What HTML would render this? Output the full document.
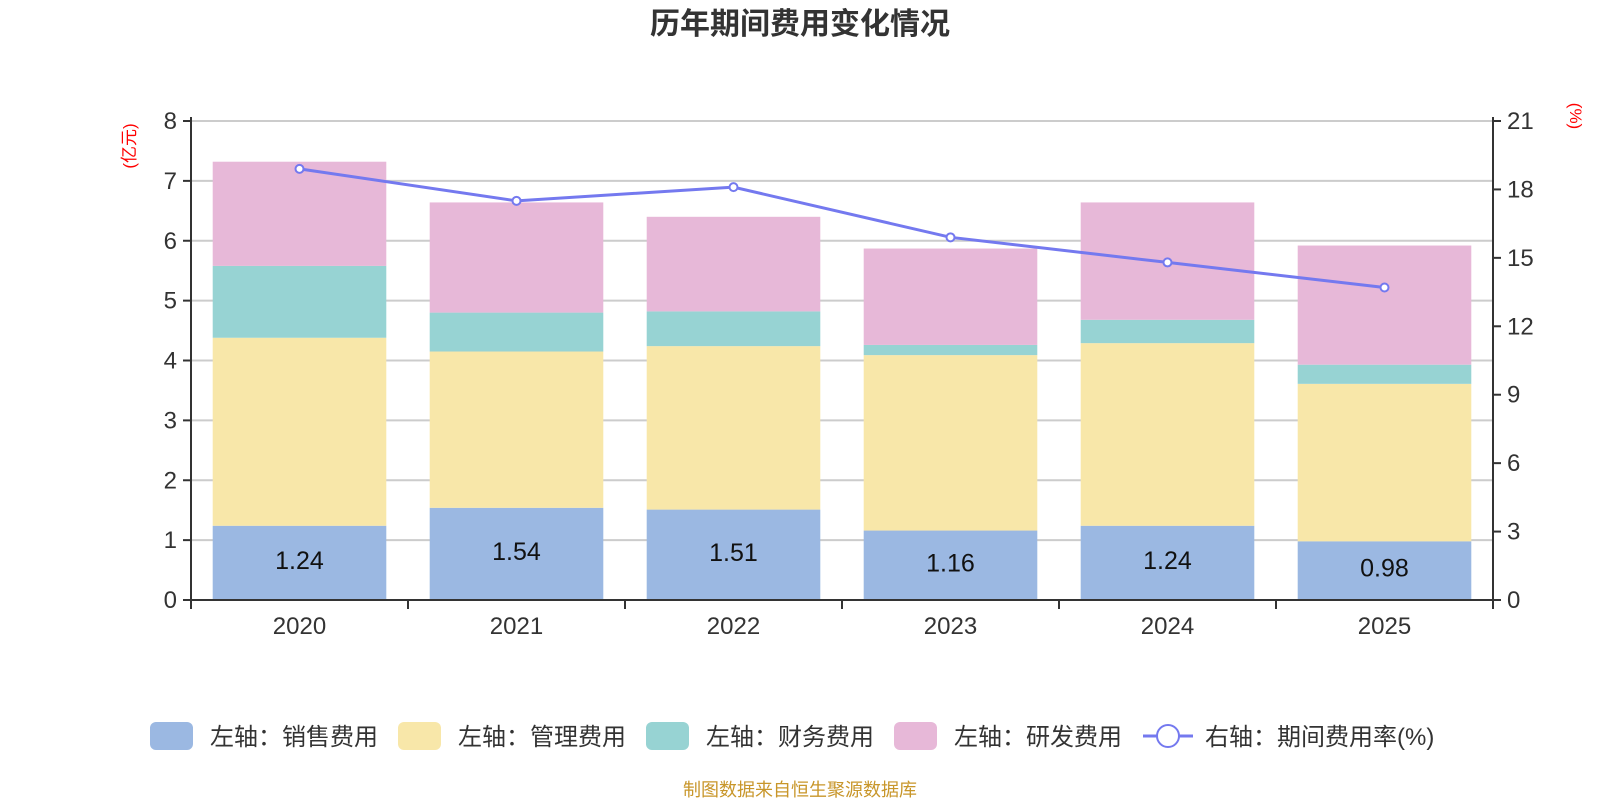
<!DOCTYPE html>
<html><head><meta charset="utf-8">
<style>
html,body{margin:0;padding:0;background:#fff;}
svg{display:block;font-family:"Liberation Sans","Noto Sans CJK SC",sans-serif;}
</style></head>
<body>
<svg id="chart" width="1600" height="800" viewBox="0 0 1600 800">
<text x="800" y="34" text-anchor="middle" font-size="30" font-weight="bold" fill="#333">历年期间费用变化情况</text>
<text transform="translate(135,146) rotate(-90)" text-anchor="middle" font-size="17" fill="#ff0000">(亿元)</text>
<text transform="translate(1570,116) rotate(90)" text-anchor="middle" font-size="17" fill="#ff0000">(%)</text>
<g id="grid"></g><g id="bars"></g><g id="axes"></g><g id="line"></g><g id="legend"></g>
<text x="800" y="796" text-anchor="middle" font-size="18" fill="#c8962a">制图数据来自恒生聚源数据库</text>
</svg>
<script>
const categories=["2020","2021","2022","2023","2024","2025"];
const sales=[1.24,1.54,1.51,1.16,1.24,0.98];
const mgmt=[3.14,2.61,2.73,2.93,3.05,2.63];
const finance=[1.20,0.65,0.58,0.17,0.39,0.32];
const rd=[1.74,1.84,1.58,1.61,1.96,1.99];
const rate=[18.9,17.5,18.1,15.9,14.8,13.7];
const leftTicks=[0,1,2,3,4,5,6,7,8];
const rightTicks=[0,3,6,9,12,15,18,21];
const seriesNames=["左轴：销售费用","左轴：管理费用","左轴：财务费用","左轴：研发费用"];
const colors=["#9bb8e2","#f8e7a9","#97d3d3","#e7b8d8"];

const NS="http://www.w3.org/2000/svg";
const X0=191,X1=1493,Y0=600,Y1=121;
const cw=(X1-X0)/categories.length;
const yL=v=>Y0-(v/8)*(Y0-Y1);
const yR=v=>Y0-(v/21)*(Y0-Y1);
const xC=i=>X0+cw*(i+0.5);
function mk(tag,attrs,parent){const e=document.createElementNS(NS,tag);for(const k in attrs)e.setAttribute(k,attrs[k]);parent.appendChild(e);return e;}
const grid=document.getElementById('grid'),bars=document.getElementById('bars'),axes=document.getElementById('axes'),lineG=document.getElementById('line'),leg=document.getElementById('legend');

leftTicks.forEach(t=>{
  const y=yL(t);
  const g=mk('line',{x1:X0,x2:X1,y1:y,y2:y,stroke:'#cccccc','stroke-width':2},grid);
  
  
  const tk=mk('line',{x1:X0-8,x2:X0,y1:y,y2:y,stroke:'#333','stroke-width':2},axes);
  
  
  const tx=mk('text',{x:X0-14,y:y+8,'text-anchor':'end','font-size':24,fill:'#333'},axes);
  tx.textContent=t;
  
  
});
rightTicks.forEach(t=>{
  const y=yR(t);
  const tk=mk('line',{x1:X1,x2:X1+8,y1:y,y2:y,stroke:'#333','stroke-width':2},axes);
  
  
  const tx=mk('text',{x:X1+14,y:y+8,'text-anchor':'start','font-size':24,fill:'#333'},axes);
  tx.textContent=t;
  
  
});
let a=mk('line',{x1:X0,x2:X0,y1:Y1-4,y2:Y0+8,stroke:'#333','stroke-width':2},axes);


a=mk('line',{x1:X1,x2:X1,y1:Y1-4,y2:Y0+8,stroke:'#333','stroke-width':2},axes);


a=mk('line',{x1:X0,x2:X1,y1:Y0,y2:Y0,stroke:'#333','stroke-width':2},axes);


for(let i=0;i<=categories.length;i++){
  const x=X0+cw*i;
  const tk=mk('line',{x1:x,x2:x,y1:Y0,y2:Y0+9,stroke:'#333','stroke-width':2},axes);
  
  
}
categories.forEach((c,i)=>{
  const tx=mk('text',{x:xC(i),y:634,'text-anchor':'middle','font-size':24,fill:'#333'},axes);
  tx.textContent=c;
  
  
});
const bw=cw*0.8;
const series=[sales,mgmt,finance,rd];
categories.forEach((c,i)=>{
  let base=0;
  series.forEach((s,k)=>{
    const v=s[i];
    const yt=yL(base+v),yb=yL(base);
    const r=mk('rect',{x:xC(i)-bw/2,y:yt,width:bw,height:yb-yt,fill:colors[k]},bars);
    
    
    base+=v;
  });
  const lt=mk('text',{x:xC(i),y:(yL(sales[i])+Y0)/2+6,'text-anchor':'middle','font-size':25,fill:'#111'},bars);
  lt.textContent=sales[i].toFixed(2);
  
  
});
const pts=rate.map((v,i)=>xC(i)+','+yR(v)).join(' ');
const pl=mk('polyline',{points:pts,fill:'none',stroke:'#7479ef','stroke-width':3},lineG);


rate.forEach((v,i)=>{
  const c=mk('circle',{cx:xC(i),cy:yR(v),r:4,fill:'#fff',stroke:'#7479ef','stroke-width':2},lineG);
  
  
});
const lx=[150,398,646,894];
seriesNames.forEach((n,k)=>{
  const r=mk('rect',{x:lx[k],y:722,width:43,height:28,rx:6,fill:colors[k]},leg);
  
  
  const t=mk('text',{x:lx[k]+60,y:745,'font-size':24,fill:'#333'},leg);
  t.textContent=n;
  
  
});
let ll=mk('line',{x1:1143,x2:1193,y1:736,y2:736,stroke:'#7479ef','stroke-width':3},leg);


ll=mk('circle',{cx:1168,cy:736,r:11,fill:'#fff',stroke:'#7479ef','stroke-width':2},leg);


ll=mk('text',{x:1205,y:745,'font-size':24,fill:'#333'},leg);
ll.textContent='右轴：期间费用率(%)';


</script>
</body></html>
